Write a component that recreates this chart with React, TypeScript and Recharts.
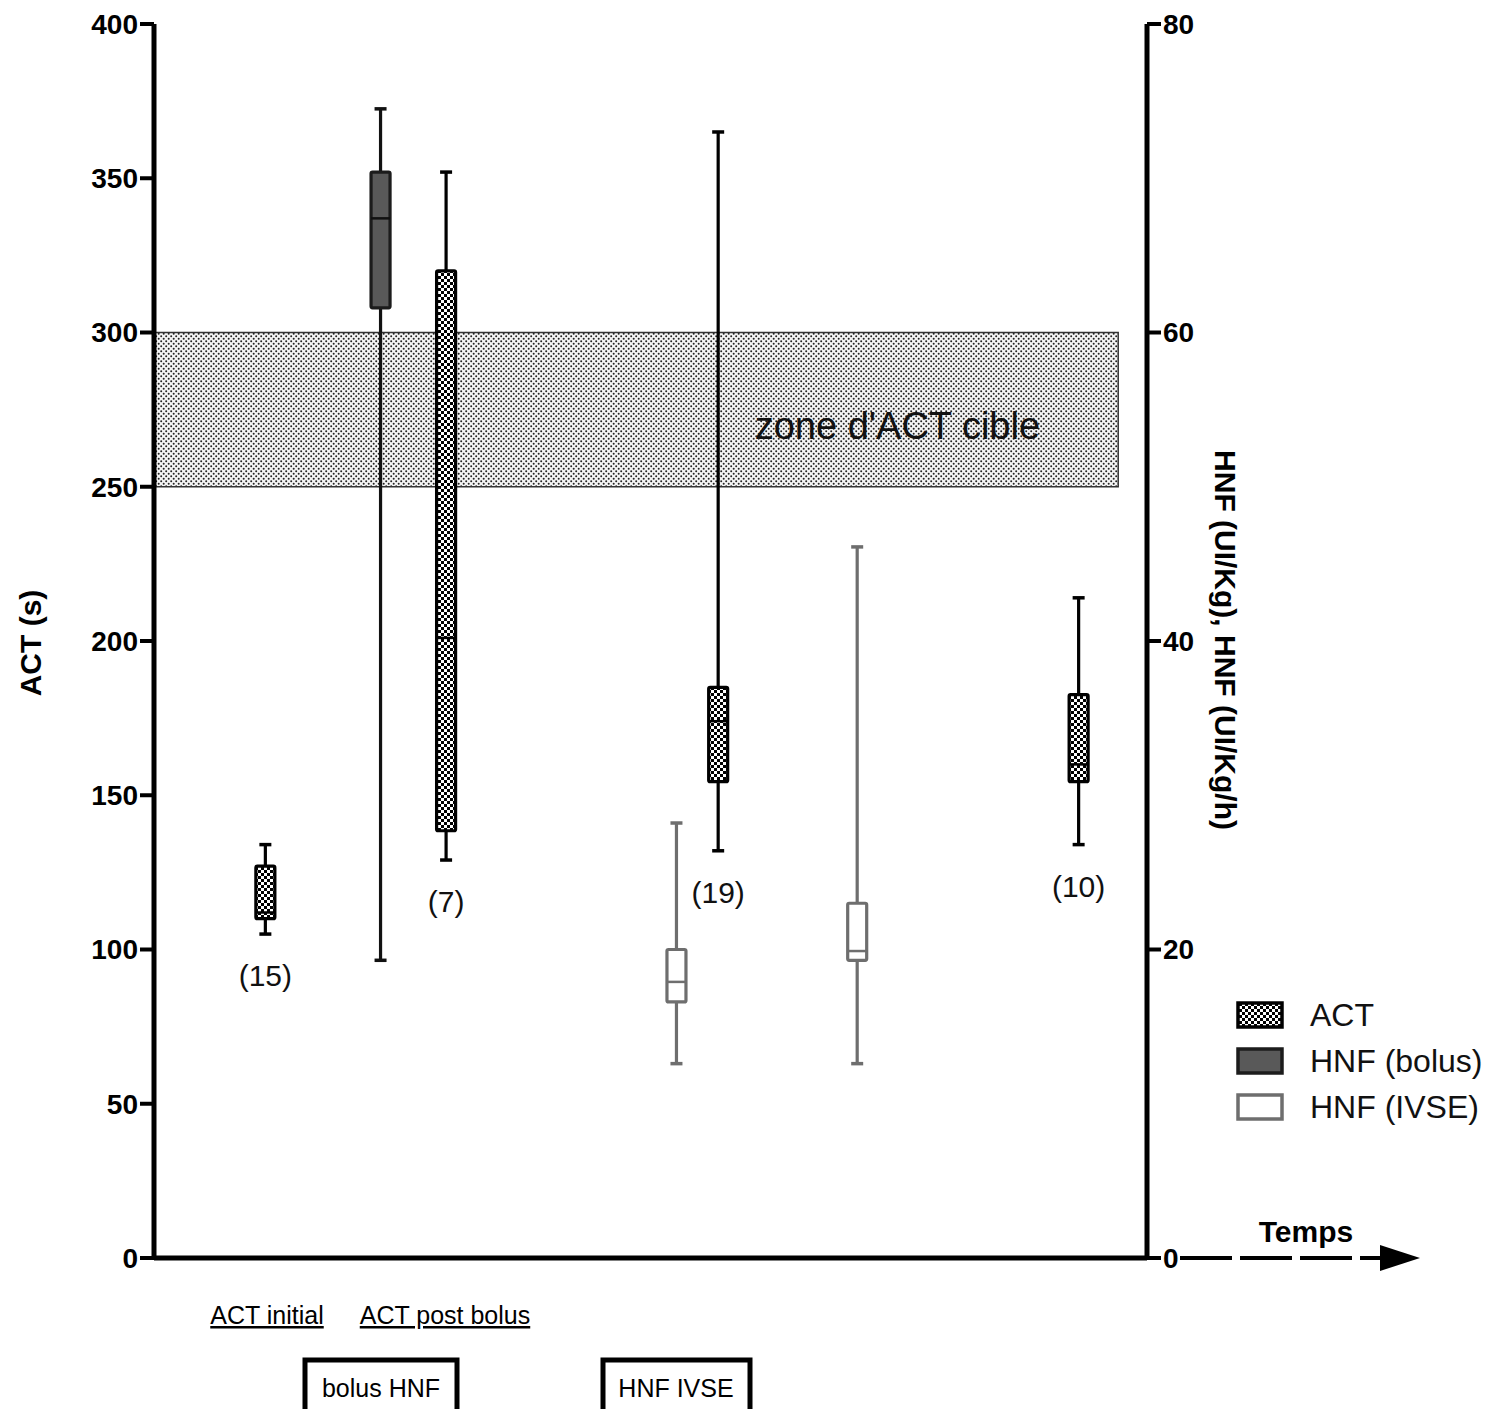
import React from 'react';
import { ComposedChart, Bar, XAxis, YAxis, ReferenceArea, Legend } from 'recharts';

const FONT = '"Liberation Sans", Arial, Helvetica, sans-serif';

// position of each box on the time axis (0-100, no ticks shown)
const timePoints = [11.2, 22.8, 29.4, 52.6, 56.8, 70.8, 93.1];
const groups = ['act', 'bolus', 'act', 'ivse', 'act', 'ivse', 'act'];
// ACT in s (left axis), HNF in UI/Kg or UI/Kg/h (right axis)
const whiskerLow = [105, 19.3, 129, 12.6, 132, 12.6, 134];
const quartile1 = [110, 61.6, 138.5, 16.6, 154.4, 19.3, 154.4];
const medians = [112, 67.4, 201, 17.9, 174, 19.9, 160];
const quartile3 = [127, 70.4, 320, 20, 185, 23, 182.6];
const whiskerHigh = [134, 74.5, 352, 28.2, 365, 46.1, 214];
const counts = ['(15)', '', '(7)', '', '(19)', '', '(10)'];

const actTicks = [0, 50, 100, 150, 200, 250, 300, 350, 400];
const hnfTicks = [0, 20, 40, 60, 80];
const targetZone = [250, 300];
const zoneEnd = 97.1;
const legendOrder = ['act', 'bolus', 'ivse'];

const data = timePoints.map((t, i) => ({
  t,
  group: groups[i],
  q1: quartile1[i],
  med: medians[i],
  q3: quartile3[i],
  n: counts[i],
  [groups[i]]: [whiskerLow[i], whiskerHigh[i]],
}));

const STYLE: Record<string, any> = {
  act: { fill: 'url(#actCheck)', stroke: '#000', whisker: '#000', median: '#000' },
  bolus: { fill: '#595959', stroke: '#1c1c1c', whisker: '#111', median: '#111' },
  ivse: { fill: '#fff', stroke: '#6e6e6e', whisker: '#6e6e6e', median: '#6e6e6e' },
};

const makeBox = (key: string) => (props: any) => {
  const { x, y, width, height, payload } = props;
  if (!payload || payload.group !== key) return <g />;
  const s = STYLE[key];
  const top = Math.min(y, y + height);
  const bottom = Math.max(y, y + height);
  const [lo, hi] = payload[key];
  const toY = (v: number) => bottom - ((v - lo) / (hi - lo)) * (bottom - top);
  const cx = x + width / 2;
  const bw = 19;
  const cap = 12;
  const boxTop = toY(payload.q3);
  const boxBottom = toY(payload.q1);
  const med = toY(payload.med);
  return (
    <g>
      <line x1={cx} x2={cx} y1={top} y2={bottom} stroke={s.whisker} strokeWidth={3.2} />
      <line x1={cx - cap / 2} x2={cx + cap / 2} y1={top} y2={top} stroke={s.whisker} strokeWidth={3.5} />
      <line x1={cx - cap / 2} x2={cx + cap / 2} y1={bottom} y2={bottom} stroke={s.whisker} strokeWidth={3.5} />
      <rect
        x={cx - bw / 2}
        y={boxTop}
        width={bw}
        height={boxBottom - boxTop}
        rx={1.5}
        fill={s.fill}
        stroke={s.stroke}
        strokeWidth={3.2}
      />
      <line x1={cx - bw / 2} x2={cx + bw / 2} y1={med} y2={med} stroke={s.median} strokeWidth={2.5} />
      {payload.n ? (
        <text x={cx} y={bottom + 52} textAnchor="middle" fontSize={30} fontFamily={FONT} fill="#111">
          {payload.n}
        </text>
      ) : null}
    </g>
  );
};

function LegendContent({ payload }: any) {
  const items = [...(payload || [])].sort(
    (a: any, b: any) => legendOrder.indexOf(a.dataKey) - legendOrder.indexOf(b.dataKey),
  );
  return (
    <div style={{ fontFamily: FONT, fontSize: 32, color: '#111' }}>
      {items.map((entry: any) => {
        const s = STYLE[entry.dataKey];
        return (
          <div key={entry.dataKey} style={{ display: 'flex', alignItems: 'center', height: 46 }}>
            <svg width={50} height={30}>
              <rect x={2} y={3} width={44} height={24} fill={s.fill} stroke={s.stroke} strokeWidth={3.5} />
            </svg>
            <span style={{ marginLeft: 24 }}>{entry.value}</span>
          </div>
        );
      })}
    </div>
  );
}

const ZoneLabel = ({ viewBox }: any) => (
  <text
    x={viewBox.x + viewBox.width * 0.771}
    y={viewBox.y + viewBox.height * 0.69}
    textAnchor="middle"
    fontSize={38}
    fontFamily={FONT}
    fill="#111"
  >
    zone d'ACT cible
  </text>
);

const tickStyle = { fontSize: 28, fontWeight: 'bold', fill: '#000', fontFamily: FONT };

export default function App() {
  return (
    <div style={{ position: 'absolute', left: 0, top: 0, width: 1504, height: 1409, background: '#fff' }}>
      <ComposedChart
        width={1504}
        height={1409}
        data={data}
        margin={{ top: 24, right: 277, bottom: 150, left: 74 }}
        barSize={2}
        barGap={-2}
      >
        <defs>
          <pattern id="actCheck" width={6} height={6} patternUnits="userSpaceOnUse">
            <rect width={6} height={6} fill="#fff" />
            <rect x={0} y={0} width={3} height={3} fill="#000" />
            <rect x={3} y={3} width={3} height={3} fill="#000" />
          </pattern>
          <pattern id="zoneDots" width={5} height={5} patternUnits="userSpaceOnUse">
            <rect width={5} height={5} fill="#f4f4f4" />
            <circle cx={1.2} cy={1.2} r={1} fill="#222" />
            <circle cx={3.7} cy={3.7} r={1} fill="#222" />
          </pattern>
        </defs>
        <XAxis
          xAxisId={0}
          type="number"
          dataKey="t"
          domain={[0, 100]}
          tick={false}
          tickLine={false}
          height={1}
          axisLine={{ stroke: '#000', strokeWidth: 5 }}
        />
        <YAxis
          yAxisId="left"
          domain={[0, 400]}
          ticks={actTicks}
          width={80}
          tickSize={14}
          tickMargin={2}
          tick={tickStyle}
          axisLine={{ stroke: '#000', strokeWidth: 5 }}
          tickLine={{ stroke: '#000', strokeWidth: 4 }}
          label={{
            content: () => (
              <text
                transform="translate(30,643) rotate(-90)"
                textAnchor="middle"
                dominantBaseline="central"
                fontSize={30}
                fontWeight="bold"
                fontFamily={FONT}
                fill="#000"
              >
                ACT (s)
              </text>
            ),
          }}
        />
        <YAxis
          yAxisId="right"
          orientation="right"
          domain={[0, 80]}
          ticks={hnfTicks}
          width={80}
          tickSize={14}
          tickMargin={2}
          tick={tickStyle}
          axisLine={{ stroke: '#000', strokeWidth: 5 }}
          tickLine={{ stroke: '#000', strokeWidth: 4 }}
          label={{
            content: () => (
              <text
                transform="translate(1225,640) rotate(90)"
                textAnchor="middle"
                dominantBaseline="central"
                fontSize={30}
                fontWeight="bold"
                fontFamily={FONT}
                fill="#000"
              >
                HNF (UI/Kg), HNF (UI/Kg/h)
              </text>
            ),
          }}
        />
        <ReferenceArea
          yAxisId="left"
          x1={0}
          x2={zoneEnd}
          y1={targetZone[0]}
          y2={targetZone[1]}
          fill="url(#zoneDots)"
          fillOpacity={1}
          stroke="#333"
          strokeWidth={1.5}
          label={ZoneLabel}
        />
        <Bar yAxisId="left" dataKey="act" name="ACT" fill="#000" shape={makeBox('act')} isAnimationActive={false} />
        <Bar yAxisId="right" dataKey="bolus" name="HNF (bolus)" fill="#595959" shape={makeBox('bolus')} isAnimationActive={false} />
        <Bar yAxisId="right" dataKey="ivse" name="HNF (IVSE)" fill="#fff" shape={makeBox('ivse')} isAnimationActive={false} />
        <Legend
          layout="vertical"
          align="center"
          verticalAlign="middle"
          content={LegendContent}
          wrapperStyle={{ left: 1236, top: 992, width: 268 }}
        />
      </ComposedChart>
      <svg
        width={1504}
        height={1409}
        style={{ position: 'absolute', left: 0, top: 0, pointerEvents: 'none' }}
        fontFamily={FONT}
      >
        <text x={1306} y={1242} textAnchor="middle" fontSize={30} fontWeight="bold" fill="#000">
          Temps
        </text>
        <line x1={1180} x2={1386} y1={1258} y2={1258} stroke="#000" strokeWidth={4} strokeDasharray="52 8" />
        <polygon points="1380,1245 1420,1258 1380,1271" fill="#000" />
        <text x={267} y={1324} textAnchor="middle" fontSize={25} fill="#000" textDecoration="underline">
          ACT initial
        </text>
        <text x={445} y={1324} textAnchor="middle" fontSize={25} fill="#000" textDecoration="underline">
          ACT post bolus
        </text>
        <rect x={305} y={1360} width={152} height={70} fill="none" stroke="#000" strokeWidth={5} />
        <text x={381} y={1397} textAnchor="middle" fontSize={25} fill="#000">
          bolus HNF
        </text>
        <rect x={603} y={1360} width={147} height={70} fill="none" stroke="#000" strokeWidth={5} />
        <text x={676} y={1397} textAnchor="middle" fontSize={25} fill="#000">
          HNF IVSE
        </text>
      </svg>
    </div>
  );
}
